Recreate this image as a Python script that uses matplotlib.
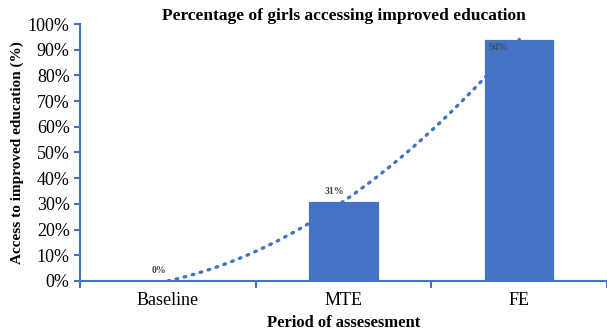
import numpy as np
import matplotlib.pyplot as plt

plt.rcParams['font.family'] = ['Liberation Serif', 'DejaVu Serif']

periods = ['Baseline', 'MTE', 'FE']
access_pct = [0, 31, 94]

blue = '#4472C4'

fig = plt.figure(figsize=(6.07, 3.34), dpi=100)
ax = fig.add_axes([0.132, 0.159, 0.868, 0.769])

x = np.arange(len(periods))
ax.bar(x, access_pct, width=0.4, color=blue, edgecolor='white', linewidth=0.6, zorder=2)

# polynomial (order 2) trendline through the bar values
coef = np.polyfit(x, access_pct, 2)
xs = np.linspace(0, 2, 200)
ax.plot(xs, np.polyval(coef, xs), color=blue, linewidth=2.4,
        linestyle=(0, (0.5, 2.0)), dash_capstyle='round', zorder=3)

# data labels
for xi, v in zip(x, access_pct):
    if v > 90:
        ax.text(xi - 0.12, v - 1.2, f'{v}%', ha='center', va='top',
                fontsize=7.5, color='#404040')
    else:
        ax.text(xi - 0.05, v + 2.2, f'{v}%', ha='center', va='bottom',
                fontsize=7, color='#404040', fontweight='bold')

ax.set_xlim(-0.5, 2.5)
ax.set_ylim(0, 100)
ax.set_yticks(np.arange(0, 101, 10))
ax.set_yticklabels([f'{t}%' for t in range(0, 101, 10)])
ax.set_xticks(x)
ax.set_xticklabels(periods)
ax.set_xticks([-0.5, 0.5, 1.5, 2.5], minor=True)

for side in ['top', 'right']:
    ax.spines[side].set_visible(False)
for side in ['left', 'bottom']:
    ax.spines[side].set_color(blue)
    ax.spines[side].set_linewidth(1.5)

ax.tick_params(axis='y', colors=blue, labelcolor='black', labelsize=13, length=4, width=1.5)
ax.tick_params(axis='x', which='major', length=0, labelsize=13, pad=8)
ax.tick_params(axis='x', which='minor', colors=blue, length=5, width=1.5, direction='out')

ax.set_title('Percentage of girls accessing improved education', fontsize=12.5,
             fontweight='bold', pad=3)
ax.set_xlabel('Period of assesesment', fontsize=12, fontweight='bold', labelpad=4)
ax.set_ylabel('Access to improved education (%)', fontsize=11, fontweight='bold', labelpad=3)

fig.savefig('out.png', dpi=100)
